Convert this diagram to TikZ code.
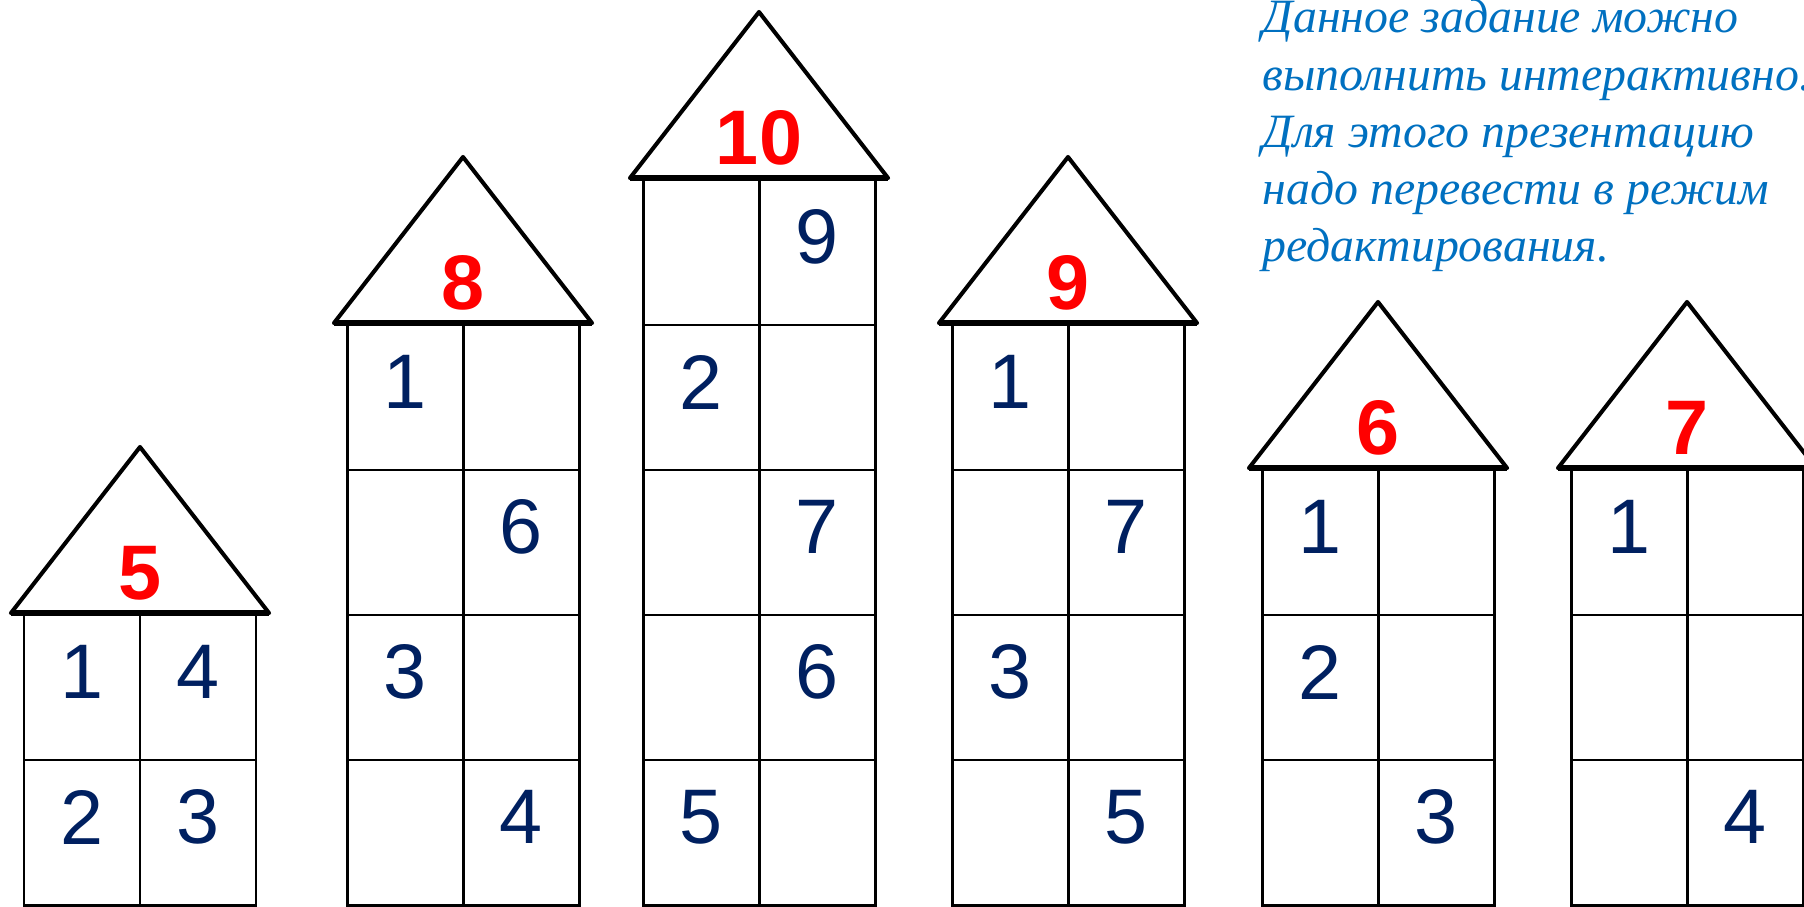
\documentclass[tikz,border=0pt]{standalone}
\usepackage{fontspec}
\setmainfont{Liberation Serif}
\setsansfont{Liberation Sans}
\usepackage{tikz}
\definecolor{navy}{HTML}{002060}
\definecolor{noteblue}{HTML}{0070C0}

\begin{document}
\begin{tikzpicture}[
		x=0.01cm, y=-0.01cm,
		wall/.style = {draw=black, line width=0.85pt},
		roof/.style = {draw=black, line width=1.15pt, line join=round, line cap=round},
		eave/.style = {draw=black, line width=1.5pt},
		total/.style = {font=\sffamily\bfseries\fontsize{22}{22}\selectfont, text=red, inner sep=0pt},
		part/.style = {font=\sffamily\fontsize{22}{22}\selectfont, text=navy, inner sep=0pt},
		note/.style = {font=\rmfamily\itshape\fontsize{13.6}{16.4}\selectfont, text=noteblue, inner sep=0pt, anchor=base west}
	]
	\clip (0,0) rectangle (1804,907);

	\foreach \c/\n/\v/\nm in {140/2/5/five, 463/4/8/eight, 759/5/10/ten, 1068/4/9/nine, 1378/3/6/six, 1687/3/7/seven} {
		\pgfmathtruncatemacro\t{905-145*\n}
		\pgfmathtruncatemacro\m{\n-1}
		\draw[wall] (\c-116,905) rectangle (\c+116,\t);
		\draw[wall] (\c,905) -- (\c,\t);
		\foreach \k in {1,...,\m}
			\draw[wall] (\c-116,905-145*\k) -- (\c+116,905-145*\k);
		\coordinate (\nm-l) at (\c-129,\t-2);
		\coordinate (\nm-r) at (\c+129,\t-2);
		\coordinate (\nm-top) at (\c,\t-168);
		\draw[roof] (\nm-l) -- (\nm-top) -- (\nm-r);
		\draw[eave] (\nm-l) -- (\nm-r);
		\node[total] (\nm-sum) at (\c,\t-42) {\v};
	}

	\node[part] (five-a)  at (82,672)   {1};
	\node[part] (five-b)  at (198,672)  {4};
	\node[part] (five-c)  at (82,817)   {2};
	\node[part] (five-d)  at (198,817)  {3};

	\node[part] (eight-a) at (405,382)  {1};
	\node[part] (eight-b) at (521,527)  {6};
	\node[part] (eight-c) at (405,672)  {3};
	\node[part] (eight-d) at (521,817)  {4};

	\node[part] (ten-a)   at (817,237)  {9};
	\node[part] (ten-b)   at (701,382)  {2};
	\node[part] (ten-c)   at (817,527)  {7};
	\node[part] (ten-d)   at (817,672)  {6};
	\node[part] (ten-e)   at (701,817)  {5};

	\node[part] (nine-a)  at (1010,382) {1};
	\node[part] (nine-b)  at (1126,527) {7};
	\node[part] (nine-c)  at (1010,672) {3};
	\node[part] (nine-d)  at (1126,817) {5};

	\node[part] (six-a)   at (1320,527) {1};
	\node[part] (six-b)   at (1320,672) {2};
	\node[part] (six-c)   at (1436,817) {3};

	\node[part] (seven-a) at (1629,527) {1};
	\node[part] (seven-b) at (1745,817) {4};

	\foreach \ln [count=\i] in {Данное задание можно, выполнить интерактивно., Для этого презентацию, надо перевести в режим, редактирования.}
		\node[note] (note-\i) at (1262,{33+57.25*(\i-1)}) {\ln};
\end{tikzpicture}
\end{document}
